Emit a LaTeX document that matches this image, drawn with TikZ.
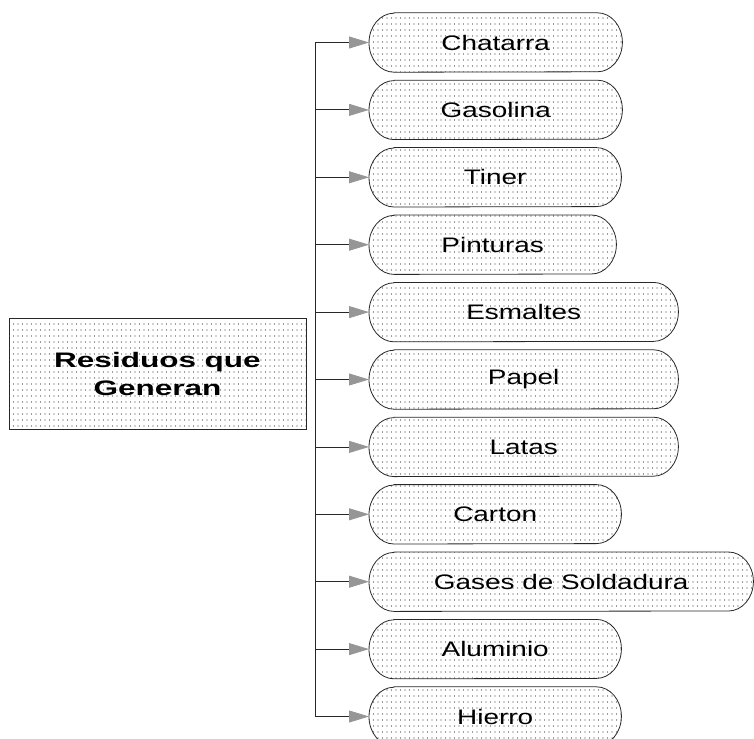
\documentclass[tikz,border=0pt]{standalone}
\usepackage{fontspec}
\setmainfont{Liberation Sans}
\newfontfamily\pillfont[FakeStretch=1.33]{Liberation Sans}
\newfontfamily\titlefont[FakeStretch=1.5]{Liberation Sans}
\usepackage{tikz}
\usetikzlibrary{arrows.meta,positioning,patterns,backgrounds}
\usepackage{xcolor}
\definecolor{rgline}{RGB}{40,40,40}
\definecolor{rgtip}{RGB}{150,150,150}
\definecolor{rgdot}{RGB}{60,60,60}
\pgfdeclarepatternformonly{rgdots}{\pgfqpoint{-1pt}{-1pt}}{\pgfqpoint{1pt}{1pt}}{\pgfqpoint{4.5pt}{6pt}}{%
  \pgfpathcircle{\pgfqpoint{0pt}{0pt}}{0.65pt}\pgfusepath{fill}}
\tikzstyle{arrow} = [line width=0.8pt,color=rgline,-{Triangle[length=20pt,width=12pt,fill=rgtip,color=rgtip]}]
\tikzstyle{trunk} = [line width=0.8pt,color=rgline]
\tikzstyle{pill} = [rectangle, anchor=west, minimum height=59pt, inner sep=0pt,
    font=\pillfont\fontsize{21}{26}\selectfont]
\tikzstyle{pillline} = [draw=rgline, line width=0.8pt, pattern=rgdots, pattern color=rgdot]
\tikzstyle{title} = [rectangle, minimum width=297pt, minimum height=111pt, draw=rgline,
    line width=0.8pt, pattern=rgdots, pattern color=rgdot, align=center,
    font=\titlefont\bfseries\fontsize{21}{28}\selectfont]

\begin{document}
\begin{tikzpicture}[x=1pt, y=-1pt, node distance=8pt]
\useasboundingbox (0,0) rectangle (754,738);
\node[title] (residuos) at (157.5,373.5) {Residuos que\\Generan};
\node[pill, minimum width=253pt] (chatarra) at (369,42.5) {Chatarra};
\node[pill, minimum width=253pt, below=of chatarra.south west, anchor=north west] (gasolina) {Gasolina};
\node[pill, minimum width=252pt, below=of gasolina.south west, anchor=north west] (tiner) {Tiner};
\node[pill, minimum width=247pt, below=of tiner.south west, anchor=north west] (pinturas) {Pinturas};
\node[pill, minimum width=309pt, below=of pinturas.south west, anchor=north west] (esmaltes) {Esmaltes};
\node[pill, minimum width=309pt, below=of esmaltes.south west, anchor=north west] (papel) {Papel};
\node[pill, minimum width=309pt, below=of papel.south west, anchor=north west] (latas) {Latas};
\node[pill, minimum width=252pt, below=of latas.south west, anchor=north west] (carton) {Carton};
\node[pill, minimum width=384pt, below=of carton.south west, anchor=north west] (gases) {Gases de Soldadura};
\node[pill, minimum width=252pt, below=of gases.south west, anchor=north west] (aluminio) {Aluminio};
\node[pill, minimum width=252pt, below=of aluminio.south west, anchor=north west] (hierro) {Hierro};
% pill outlines behind the labels
\begin{scope}[on background layer]
\foreach \n in {chatarra,gasolina,tiner,pinturas,esmaltes,papel,latas,carton,gases,aluminio,hierro}
  \draw[pillline] ([xshift=25pt]\n.north west) -- ([xshift=-25pt]\n.north east)
    arc[start angle=90, end angle=-90, x radius=25pt, y radius=29.5pt]
    -- ([xshift=25pt]\n.south west)
    arc[start angle=270, end angle=90, x radius=25pt, y radius=29.5pt] -- cycle;
\end{scope}
\coordinate (stem) at (315,0);
\draw[trunk] (stem |- chatarra.west) -- (stem |- hierro.west);
\draw[arrow] (stem |- chatarra.west) -- (chatarra.west);
\draw[arrow] (stem |- gasolina.west) -- (gasolina.west);
\draw[arrow] (stem |- tiner.west) -- (tiner.west);
\draw[arrow] (stem |- pinturas.west) -- (pinturas.west);
\draw[arrow] (stem |- esmaltes.west) -- (esmaltes.west);
\draw[arrow] (stem |- papel.west) -- (papel.west);
\draw[arrow] (stem |- latas.west) -- (latas.west);
\draw[arrow] (stem |- carton.west) -- (carton.west);
\draw[arrow] (stem |- gases.west) -- (gases.west);
\draw[arrow] (stem |- aluminio.west) -- (aluminio.west);
\draw[arrow] (stem |- hierro.west) -- (hierro.west);
\end{tikzpicture}
\end{document}
